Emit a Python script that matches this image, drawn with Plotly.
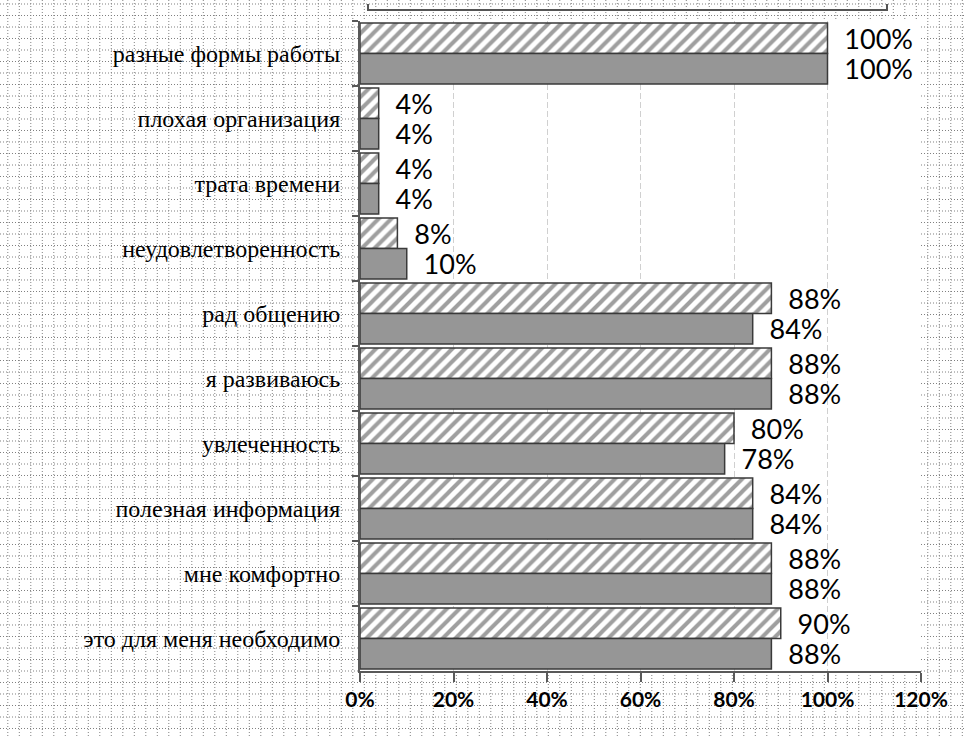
import plotly.graph_objects as go

# ---- data ----
categories = [
    "разные формы работы",
    "плохая организация",
    "трата времени",
    "неудовлетворенность",
    "рад общению",
    "я развиваюсь",
    "увлеченность",
    "полезная информация",
    "мне комфортно",
    "это для меня необходимо",
]
hatched_values = [100, 4, 4, 8, 88, 88, 80, 84, 88, 90]
gray_values = [100, 4, 4, 10, 84, 88, 78, 84, 88, 88]
x_tick_values = [0, 20, 40, 60, 80, 100, 120]
x_tick_labels = ["0%", "20%", "40%", "60%", "80%", "100%", "120%"]

# ---- geometry ----
W, H = 964, 738
L, R, T, B = 360, 43, 21, 67
PW = W - L - R
PH = H - T - B


def fx(px):
    return (px - L) / PW


def fy(py):
    return (H - B - py) / PH


# graph-paper background (decoration)
step = 11.5
vpath = ""
x = 7.8
while x < W:
    vpath += f"M{fx(x):.5f},{fy(0):.5f}L{fx(x):.5f},{fy(H):.5f}"
    x += step
hpath = ""
y = 4.0
while y < H:
    hpath += f"M{fx(0):.5f},{fy(y):.5f}L{fx(W):.5f},{fy(y):.5f}"
    y += step

shapes = [
    dict(type="path", path=vpath, xref="paper", yref="paper", layer="below",
         line=dict(color="#808080", width=1, dash="1px,2px")),
    dict(type="path", path=hpath, xref="paper", yref="paper", layer="below",
         line=dict(color="#808080", width=1, dash="1px,2px")),
    dict(type="rect", xref="paper", yref="paper", x0=0, x1=1, y0=0, y1=1,
         fillcolor="white", line=dict(width=0), layer="below"),
    # fragment of the document text border above the chart
    dict(type="path", xref="paper", yref="paper", layer="above",
         path=f"M{fx(368):.5f},{fy(4):.5f}L{fx(368):.5f},{fy(10):.5f}L{fx(887):.5f},{fy(10):.5f}L{fx(887):.5f},{fy(4):.5f}",
         line=dict(color="#555555", width=2)),
]

NB = "\u00a0"
hatched_text = [f"{NB}{NB}{v}%" for v in hatched_values]
gray_text = [f"{NB}{NB}{v}%" for v in gray_values]

fig = go.Figure()
fig.add_trace(go.Bar(
    orientation="h", y=categories, x=hatched_values,
    marker=dict(color="white", line=dict(color="#3a3a3a", width=1.5),
                pattern=dict(shape="/", fgcolor="#404040", bgcolor="white",
                             size=9, solidity=0.45)),
    text=hatched_text, textposition="outside", constraintext="none",
    textfont=dict(family="Lato", size=27, color="black"),
    cliponaxis=False, hoverinfo="skip",
))
fig.add_trace(go.Bar(
    orientation="h", y=categories, x=gray_values,
    marker=dict(color="#969696", line=dict(color="#3a3a3a", width=1.5)),
    text=gray_text, textposition="outside", constraintext="none",
    textfont=dict(family="Lato", size=27, color="black"),
    cliponaxis=False, hoverinfo="skip",
))

fig.update_layout(
    width=W, height=H,
    margin=dict(l=L, r=R, t=T, b=B, pad=0),
    paper_bgcolor="white", plot_bgcolor="white",
    barmode="group", bargap=0.06, bargroupgap=0,
    showlegend=False,
    shapes=shapes,
    xaxis=dict(
        range=[0, 120], tickmode="array", tickvals=x_tick_values, ticktext=x_tick_labels,
        showline=True, linecolor="#595959", linewidth=2,
        ticks="outside", ticklen=9, tickwidth=2, tickcolor="#595959",
        showgrid=True, gridcolor="#d0d0d0", gridwidth=1, griddash="6px,3px",
        zeroline=False, ticklabelstandoff=0,
        tickfont=dict(family="Lato", size=21, color="black", weight="bold"),
    ),
    yaxis=dict(
        type="category", autorange="reversed",
        showline=True, linecolor="#595959", linewidth=2,
        ticks="outside", tickson="boundaries", ticklen=6, tickwidth=2, tickcolor="#595959",
        showgrid=False, zeroline=False, ticklabelstandoff=13,
        tickfont=dict(family="Liberation Serif", size=24, color="black"),
    ),
)

fig.write_html("out.html", config={"displayModeBar": False},
               post_script="document.body.style.margin='0';")
